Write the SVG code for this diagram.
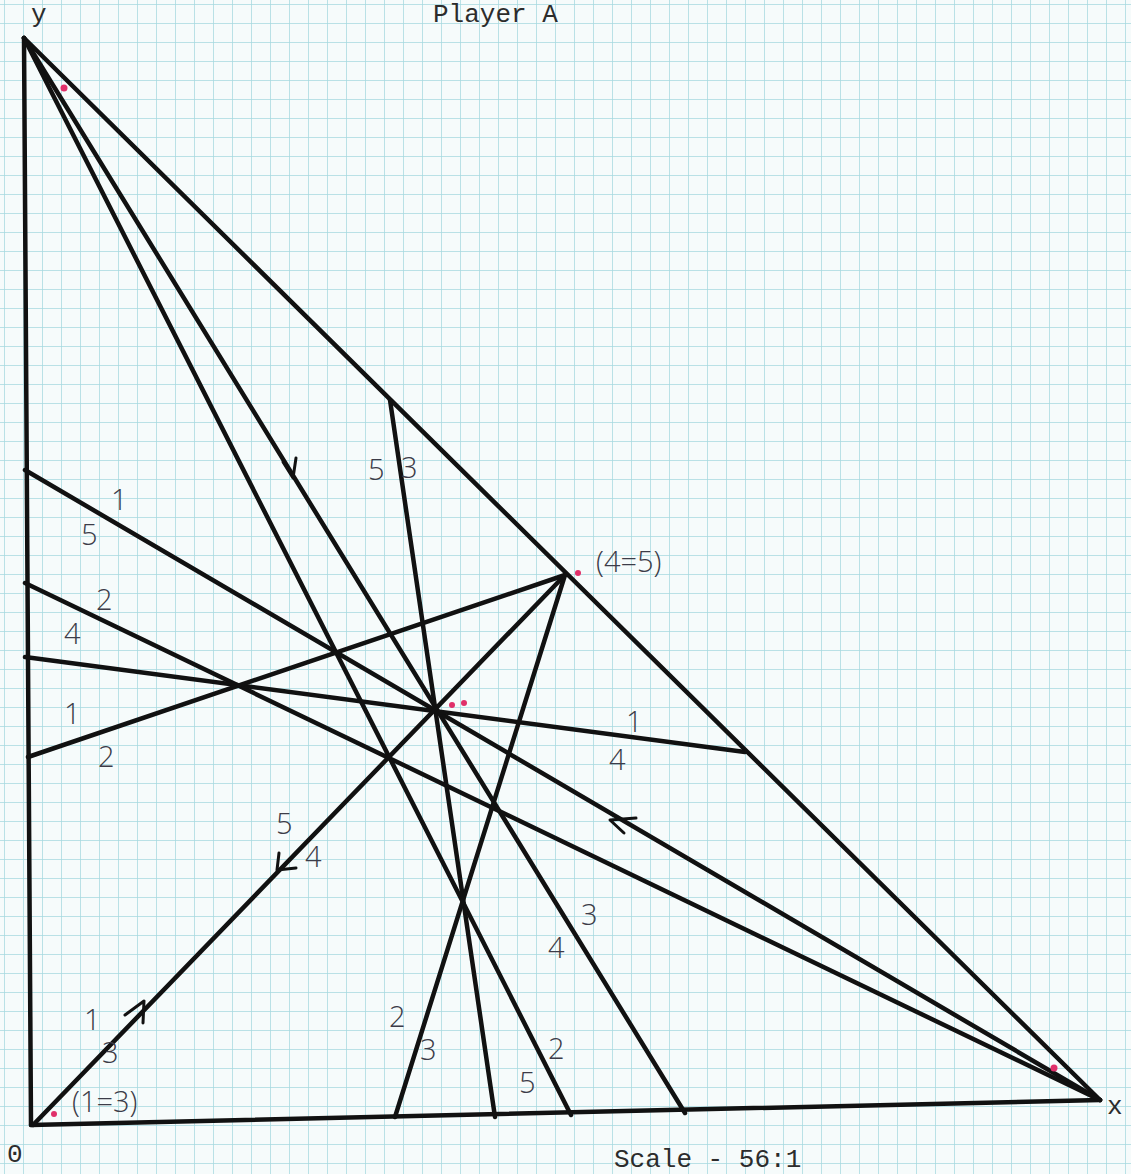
<svg xmlns="http://www.w3.org/2000/svg" width="1131" height="1174" viewBox="0 0 1131 1174">
<defs>
<pattern id="grid" x="4" y="4" width="19" height="19" patternUnits="userSpaceOnUse">
<path d="M0 0 H19 M0 0 V19" fill="none" stroke="#a6d9df" stroke-width="1.5"/>
</pattern>
<style>
.ln{stroke:#111;stroke-width:4.5;fill:none;stroke-linecap:round}
.ar{stroke:#111;stroke-width:3;fill:none;stroke-linecap:round;stroke-linejoin:round}
.tw{font-family:"Liberation Mono","DejaVu Sans Mono",monospace;font-size:26px;fill:#2c2c2c}
.hw{font-family:"Open Sans","Liberation Sans",sans-serif;font-size:29px;fill:#3c3c48;font-weight:300}
.dot{fill:#e0306a}
</style>
</defs>
<rect width="1131" height="1174" fill="#f6fbfb"/>
<rect width="1131" height="1174" fill="url(#grid)"/>
<g id="connectors">
<line class="ln" x1="24" y1="38" x2="31" y2="1125"/>
<line class="ln" x1="31" y1="1125" x2="1100" y2="1100"/>
<line class="ln" x1="24" y1="38" x2="1100" y2="1100"/>
<line class="ln" x1="24" y1="38" x2="685" y2="1113"/>
<line class="ln" x1="24" y1="38" x2="571" y2="1115"/>
<line class="ln" x1="390" y1="400" x2="495" y2="1117"/>
<line class="ln" x1="25" y1="470" x2="1100" y2="1100"/>
<line class="ln" x1="25" y1="583" x2="1100" y2="1100"/>
<line class="ln" x1="25" y1="657" x2="745" y2="752"/>
<line class="ln" x1="28" y1="757" x2="565" y2="575"/>
<line class="ln" x1="33" y1="1125" x2="565" y2="575"/>
<line class="ln" x1="565" y1="575" x2="395" y2="1117"/>
<path class="ar" d="M283 462 L293 478 L296 458"/>
<path class="ar" d="M636 818 L610 820 L624 833"/>
<path class="ar" d="M296 868 L277 870 L279 853"/>
<path class="ar" d="M125 1015 L144 1001 L143 1023"/>
</g>
<g id="dots">
<circle class="dot" cx="64" cy="88" r="3.5"/>
<circle class="dot" cx="452" cy="705" r="3"/>
<circle class="dot" cx="464" cy="703" r="3"/>
<circle class="dot" cx="578" cy="573" r="3"/>
<circle class="dot" cx="54" cy="1114" r="3"/>
<circle class="dot" cx="1054" cy="1068" r="3.5"/>
</g>
<g id="labels-typed">
<text class="tw" x="31" y="22">y</text>
<text class="tw" x="433" y="22">Player A</text>
<text class="tw" x="1107" y="1114">x</text>
<text class="tw" x="7" y="1162">0</text>
<text class="tw" x="614" y="1167">Scale - 56:1</text>
</g>
<g id="labels-hand">
<text class="hw" x="368" y="480">5</text>
<text class="hw" x="401" y="478">3</text>
<text class="hw" x="596" y="572">(4=5)</text>
<text class="hw" x="111" y="510">1</text>
<text class="hw" x="81" y="545">5</text>
<text class="hw" x="96" y="610">2</text>
<text class="hw" x="64" y="644">4</text>
<text class="hw" x="64" y="724">1</text>
<text class="hw" x="98" y="767">2</text>
<text class="hw" x="626" y="732">1</text>
<text class="hw" x="609" y="770">4</text>
<text class="hw" x="276" y="834">5</text>
<text class="hw" x="305" y="867">4</text>
<text class="hw" x="84" y="1030">1</text>
<text class="hw" x="102" y="1063">3</text>
<text class="hw" x="72" y="1112">(1=3)</text>
<text class="hw" x="581" y="925">3</text>
<text class="hw" x="548" y="958">4</text>
<text class="hw" x="389" y="1027">2</text>
<text class="hw" x="420" y="1060">3</text>
<text class="hw" x="548" y="1059">2</text>
<text class="hw" x="519" y="1093">5</text>
</g>
</svg>
